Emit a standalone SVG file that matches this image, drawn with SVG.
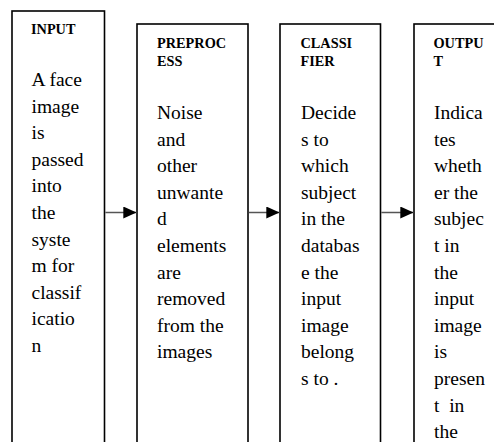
<svg xmlns="http://www.w3.org/2000/svg" width="494" height="442" viewBox="0 0 494 442">
  <style>
    .box { fill: #ffffff; stroke: #000000; stroke-width: 1.6; }
    .title { font-weight: bold; font-size: 14.3px; fill: #000000; }
    .body { font-size: 19.5px; fill: #000000; }
    .link { stroke: #555555; stroke-width: 1.5; fill: none; }
  </style>
  <defs>
    <marker id="head" markerWidth="13" markerHeight="12" refX="13" refY="6" orient="auto" markerUnits="userSpaceOnUse">
      <path d="M0,0 L13,6 L0,12 Z" fill="#000000"/>
    </marker>
  </defs>
  <rect width="494" height="442" fill="#ffffff"/>

  <g font-family="'Liberation Serif', 'Times New Roman', 'DejaVu Serif', serif">
  <g id="input">
    <rect class="box" x="12" y="11" width="92.5" height="450"/>
    <text class="title" x="31" y="34">INPUT</text>
    <text class="body">
      <tspan x="31.5" y="86">A face</tspan>
      <tspan x="31.5" y="112.6">image</tspan>
      <tspan x="31.5" y="139.2">is</tspan>
      <tspan x="31.5" y="165.8">passed</tspan>
      <tspan x="31.5" y="192.4">into</tspan>
      <tspan x="31.5" y="219">the</tspan>
      <tspan x="31.5" y="245.6">syste</tspan>
      <tspan x="31.5" y="272.2">m for</tspan>
      <tspan x="31.5" y="298.8">classif</tspan>
      <tspan x="31.5" y="325.4">icatio</tspan>
      <tspan x="31.5" y="352">n</tspan>
    </text>
  </g>

  <g id="preprocess">
    <rect class="box" x="137" y="24" width="111" height="450"/>
    <text class="title">
      <tspan x="157" y="48">PREPROC</tspan>
      <tspan x="157" y="65.5">ESS</tspan>
    </text>
    <text class="body">
      <tspan x="157" y="119">Noise</tspan>
      <tspan x="157" y="145.6">and</tspan>
      <tspan x="157" y="172.2">other</tspan>
      <tspan x="157" y="198.8">unwante</tspan>
      <tspan x="157" y="225.4">d</tspan>
      <tspan x="157" y="252">elements</tspan>
      <tspan x="157" y="278.6">are</tspan>
      <tspan x="157" y="305.2">removed</tspan>
      <tspan x="157" y="331.8">from the</tspan>
      <tspan x="157" y="358.4">images</tspan>
    </text>
  </g>

  <g id="classifier">
    <rect class="box" x="280" y="24" width="100.5" height="450"/>
    <text class="title">
      <tspan x="300.5" y="48">CLASSI</tspan>
      <tspan x="300.5" y="65.5">FIER</tspan>
    </text>
    <text class="body">
      <tspan x="301" y="119">Decide</tspan>
      <tspan x="301" y="145.6">s to</tspan>
      <tspan x="301" y="172.2">which</tspan>
      <tspan x="301" y="198.8">subject</tspan>
      <tspan x="301" y="225.4">in the</tspan>
      <tspan x="301" y="252">databas</tspan>
      <tspan x="301" y="278.6">e the</tspan>
      <tspan x="301" y="305.2">input</tspan>
      <tspan x="301" y="331.8">image</tspan>
      <tspan x="301" y="358.4">belong</tspan>
      <tspan x="301" y="385">s to .</tspan>
    </text>
  </g>

  <g id="output">
    <rect class="box" x="414" y="24" width="100" height="450"/>
    <text class="title">
      <tspan x="433.5" y="48">OUTPU</tspan>
      <tspan x="433.5" y="65.5">T</tspan>
    </text>
    <text class="body" xml:space="preserve">
      <tspan x="434" y="119">Indica</tspan>
      <tspan x="434" y="145.6">tes</tspan>
      <tspan x="434" y="172.2">wheth</tspan>
      <tspan x="434" y="198.8">er the</tspan>
      <tspan x="434" y="225.4">subjec</tspan>
      <tspan x="434" y="252">t in</tspan>
      <tspan x="434" y="278.6">the</tspan>
      <tspan x="434" y="305.2">input</tspan>
      <tspan x="434" y="331.8">image</tspan>
      <tspan x="434" y="358.4">is</tspan>
      <tspan x="434" y="385">presen</tspan>
      <tspan x="434" y="411.6">t  in</tspan>
      <tspan x="434" y="438.2">the</tspan>
    </text>
  </g>
  </g>

  <g id="connectors">
    <line class="link" x1="105.3" y1="212.5" x2="136.3" y2="212.5" marker-end="url(#head)"/>
    <line class="link" x1="248.8" y1="212.5" x2="279.3" y2="212.5" marker-end="url(#head)"/>
    <line class="link" x1="381.3" y1="212.5" x2="413.3" y2="212.5" marker-end="url(#head)"/>
  </g>
</svg>
